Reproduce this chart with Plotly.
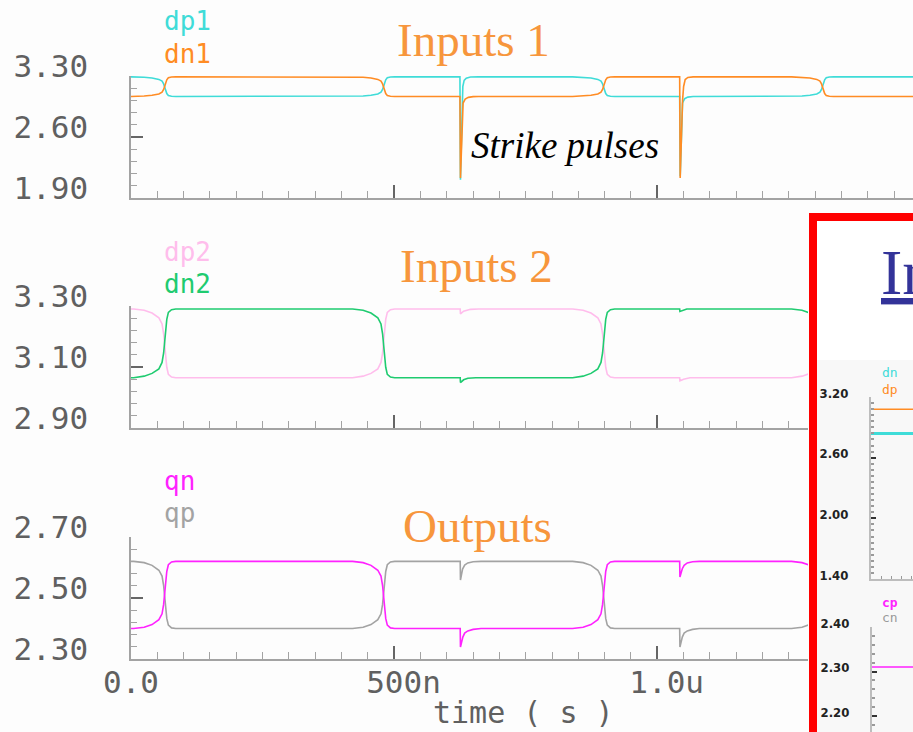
import plotly.graph_objects as go

# ---------------- waveform data (time in ns, voltage in V) ----------------
# time grids around the four logic transitions
EDGE_65 = [5, 25, 40, 53, 59, 62, 65, 68, 71, 77, 85]
EDGE_481 = [421, 441, 456, 469, 475, 478, 481, 484, 487, 493, 501]
EDGE_899 = [839, 859, 874, 887, 893, 896, 899, 902, 905, 911, 919]
EDGE_1315 = [1255, 1275, 1290, 1303, 1309, 1312, 1315, 1318, 1321, 1327, 1335]

# input node voltage through a falling / rising edge
IN_FALL = [3.290, 3.286, 3.277, 3.261, 3.241, 3.209, 3.155, 3.099, 3.076, 3.067, 3.065]
IN_RISE = [3.065, 3.070, 3.079, 3.094, 3.115, 3.146, 3.200, 3.256, 3.279, 3.288, 3.290]
# output node voltage through a falling / rising edge
OUT_FALL = [2.620, 2.616, 2.607, 2.591, 2.572, 2.541, 2.488, 2.433, 2.411, 2.402, 2.400]
OUT_RISE = [2.400, 2.404, 2.413, 2.429, 2.448, 2.479, 2.532, 2.587, 2.609, 2.618, 2.620]

# response to the two strike pulses (first near 626 ns, second near 1043 ns)
DP1_HIT1_T = [625, 626, 628.5, 630.5, 633, 637, 645, 660]
DP1_HIT1_V = [3.290, 2.110, 2.750, 3.180, 3.250, 3.275, 3.288, 3.290]
DP1_HIT2_T = [1042.5, 1043.5, 1046, 1048, 1052, 1058, 1068]
DP1_HIT2_V = [3.065, 2.150, 2.700, 2.990, 3.040, 3.058, 3.065]

DN1_HIT1_T = [625, 626, 629, 631, 635, 641, 650, 660]
DN1_HIT1_V = [3.065, 2.130, 2.750, 2.990, 3.035, 3.055, 3.063, 3.065]
DN1_HIT2_T = [1042.5, 1043.5, 1046, 1048, 1050, 1053, 1058, 1068]
DN1_HIT2_V = [3.290, 2.130, 2.750, 3.020, 3.180, 3.260, 3.283, 3.290]

DP2_HIT1_T = [625.5, 626, 632, 645, 660]
DP2_HIT1_V = [3.290, 3.274, 3.283, 3.289, 3.290]
DP2_HIT2_T = [1042.5, 1043, 1050, 1062]
DP2_HIT2_V = [3.065, 3.055, 3.060, 3.065]

DN2_HIT1_T = [625.5, 626, 632, 640, 655]
DN2_HIT1_V = [3.065, 3.049, 3.058, 3.063, 3.065]
DN2_HIT2_T = [1042.5, 1043, 1050, 1056]
DN2_HIT2_V = [3.290, 3.282, 3.287, 3.290]

QP_HIT1_T = [625.5, 626, 628, 630, 634, 640, 650, 665]
QP_HIT1_V = [2.620, 2.559, 2.575, 2.595, 2.608, 2.615, 2.619, 2.620]
QP_HIT2_T = [1042.5, 1043, 1045, 1047.5, 1051, 1057, 1067, 1080]
QP_HIT2_V = [2.400, 2.339, 2.355, 2.372, 2.385, 2.392, 2.397, 2.400]

QN_HIT1_T = [625.5, 626, 628, 630.5, 634, 640, 650, 665]
QN_HIT1_V = [2.400, 2.339, 2.355, 2.372, 2.385, 2.392, 2.397, 2.400]
QN_HIT2_T = [1042.5, 1043, 1045, 1047.5, 1051, 1057, 1067, 1080]
QN_HIT2_V = [2.620, 2.569, 2.582, 2.596, 2.607, 2.615, 2.619, 2.620]

T_START, T_END = 0, 1500

# small zoomed view (time in ns)
INSET_T = [0, 210]
INSET_DN = [2.84, 2.84]
INSET_DP = [3.08, 3.08]
INSET_CP = [2.31, 2.31]

# axis ticks
X_TICKS = [0, 500e-9, 1000e-9]
X_TICKTEXT = ["0.0", "\u00a0500n", "\u00a01.0u"]
Y1_TICKS = [1.90, 2.60, 3.30]
Y2_TICKS = [2.90, 3.10, 3.30]
Y3_TICKS = [2.30, 2.50, 2.70]
Y4_TICKS = [1.40, 2.00, 2.60, 3.20]
Y5_TICKS = [2.20, 2.30, 2.40]

# ---------------- assemble the series ----------------
dp1_t = [T_START] + EDGE_65 + EDGE_481 + DP1_HIT1_T + EDGE_899 + DP1_HIT2_T + EDGE_1315 + [T_END]
dp1_v = [3.290] + IN_FALL + IN_RISE + DP1_HIT1_V + IN_FALL + DP1_HIT2_V + IN_RISE + [3.290]
dn1_t = [T_START] + EDGE_65 + EDGE_481 + DN1_HIT1_T + EDGE_899 + DN1_HIT2_T + EDGE_1315 + [T_END]
dn1_v = [3.065] + IN_RISE + IN_FALL + DN1_HIT1_V + IN_RISE + DN1_HIT2_V + IN_FALL + [3.065]

dp2_t = [T_START] + EDGE_65 + EDGE_481 + DP2_HIT1_T + EDGE_899 + DP2_HIT2_T + EDGE_1315 + [T_END]
dp2_v = [3.290] + IN_FALL + IN_RISE + DP2_HIT1_V + IN_FALL + DP2_HIT2_V + IN_RISE + [3.290]
dn2_t = [T_START] + EDGE_65 + EDGE_481 + DN2_HIT1_T + EDGE_899 + DN2_HIT2_T + EDGE_1315 + [T_END]
dn2_v = [3.065] + IN_RISE + IN_FALL + DN2_HIT1_V + IN_RISE + DN2_HIT2_V + IN_FALL + [3.065]

qp_t = [T_START] + EDGE_65 + EDGE_481 + QP_HIT1_T + EDGE_899 + QP_HIT2_T + EDGE_1315 + [T_END]
qp_v = [2.620] + OUT_FALL + OUT_RISE + QP_HIT1_V + OUT_FALL + QP_HIT2_V + OUT_RISE + [2.620]
qn_t = [T_START] + EDGE_65 + EDGE_481 + QN_HIT1_T + EDGE_899 + QN_HIT2_T + EDGE_1315 + [T_END]
qn_v = [2.400] + OUT_RISE + OUT_FALL + QN_HIT1_V + OUT_RISE + QN_HIT2_V + OUT_FALL + [2.400]

# ---------------- styling ----------------
W, H = 913, 732
MONO = "DejaVu Sans Mono"
SERIF = "Liberation Serif, Times New Roman, serif"
NARROW = "Liberation Sans Narrow, DejaVu Sans Condensed, sans-serif"
AXIS = "#a3a3a3"
MAJOR = "#666666"
LABEL = "#606060"
TITLE = "#f7963c"

C_DP1 = "#3fdcd8"
C_DN1 = "#ff8c24"
C_DP2 = "#ffbdec"
C_DN2 = "#1fcb70"
C_QN = "#ff22ff"
C_QP = "#a3a3a3"


def px(x):
    return x / W


def py(y):
    return 1 - y / H


PX_PER_NS = 263.15 / 500.0
LEFT = 131


def ns_span(right_px):
    return (right_px - LEFT) / PX_PER_NS * 1e-9


def sec(ts):
    return [t * 1e-9 for t in ts]


fig = go.Figure()


def line(t, v, color, xa, ya, width=1.6, scale=True):
    fig.add_trace(go.Scatter(
        x=sec(t) if scale else t, y=v, mode="lines",
        line=dict(color=color, width=width),
        xaxis=xa, yaxis=ya, hoverinfo="skip", showlegend=False,
    ))


line(dp1_t, dp1_v, C_DP1, "x", "y")
line(dn1_t, dn1_v, C_DN1, "x", "y")
line(dp2_t, dp2_v, C_DP2, "x2", "y2")
line(dn2_t, dn2_v, C_DN2, "x2", "y2")
line(qp_t, qp_v, C_QP, "x3", "y3")
line(qn_t, qn_v, C_QN, "x3", "y3")

line(INSET_T, INSET_DP, C_DN1, "x4", "y4", width=1.5, scale=False)
line(INSET_T, INSET_DN, C_DP1, "x4", "y4", width=3, scale=False)
line(INSET_T, INSET_CP, C_QN, "x5", "y5", width=1.5, scale=False)


def xcfg(right_px, anchor, labels):
    return dict(
        domain=[px(LEFT), px(right_px)], anchor=anchor, automargin=False,
        range=[0, ns_span(right_px)],
        tickvals=X_TICKS, ticktext=X_TICKTEXT, showticklabels=labels,
        ticks="inside", ticklen=13, tickwidth=1.5, tickcolor=MAJOR,
        showline=True, linecolor=AXIS, linewidth=1.5,
        showgrid=False, zeroline=False,
        minor=dict(ticks="inside", ticklen=7, tickwidth=1.2, tickcolor=AXIS,
                   dtick=50e-9, tick0=0, showgrid=False),
        tickfont=dict(family=MONO, size=31, color=LABEL),
        ticklabelstandoff=-5,
    )


def ycfg(top_px, bottom_px, anchor, ticks, minor_dt):
    return dict(
        domain=[py(bottom_px), py(top_px)], anchor=anchor, automargin=False,
        range=[ticks[0], ticks[-1]],
        tickvals=ticks, tickformat=".2f",
        ticks="inside", ticklen=12, tickwidth=1.5, tickcolor=MAJOR,
        showline=True, linecolor=AXIS, linewidth=1.5,
        showgrid=False, zeroline=False,
        minor=dict(ticks="inside", ticklen=6, tickwidth=1.2, tickcolor=AXIS,
                   dtick=minor_dt, tick0=ticks[0], showgrid=False),
        tickfont=dict(family=MONO, size=31, color=LABEL),
        ticklabelshift=-10, ticklabelstandoff=35,
    )


def inset_y(top_px, bottom_px, anchor, rng, ticks, minor_dt):
    return dict(
        domain=[py(bottom_px), py(top_px)], anchor=anchor, automargin=False,
        range=rng, tickvals=ticks, tickformat=".2f",
        showline=True, linecolor="#bdbdbd", linewidth=2,
        ticks="inside", ticklen=5, tickwidth=1.5, tickcolor="#333333",
        minor=dict(ticks="inside", ticklen=3, tickcolor="#9a9a9a",
                   dtick=minor_dt, tick0=ticks[0], showgrid=False),
        showgrid=False, zeroline=False,
        tickfont=dict(family=NARROW, size=13, color="#222222", weight="bold"),
        ticklabelshift=-4, ticklabelstandoff=18,
    )


fig.update_layout(
    width=W, height=H,
    margin=dict(l=0, r=0, t=0, b=0, autoexpand=False),
    paper_bgcolor="#fdfdfd", plot_bgcolor="rgba(0,0,0,0)",
    xaxis=xcfg(913, "y", False),
    xaxis2=xcfg(808, "y2", False),
    xaxis3=xcfg(808, "y3", True),
    yaxis=ycfg(76, 198, "x", Y1_TICKS, 0.14),
    yaxis2=ycfg(306, 428, "x2", Y2_TICKS, 0.04),
    yaxis3=ycfg(537, 659, "x3", Y3_TICKS, 0.04),
    # zoomed view inside the framed box
    xaxis4=dict(domain=[px(871), 1], anchor="y4", range=[0, 210], automargin=False,
                showline=True, linecolor="#bdbdbd", linewidth=2,
                ticks="inside", ticklen=3, tickcolor="#9a9a9a", dtick=50,
                showticklabels=False, showgrid=False, zeroline=False),
    yaxis4=inset_y(397, 579, "x4", [1.40, 3.20], Y4_TICKS, 0.06),
    xaxis5=dict(domain=[px(872), 1], anchor="y5", range=[0, 210], visible=False,
                automargin=False),
    yaxis5=inset_y(627, 732, "x5", [2.40 - (732 - 627) / 445.0, 2.40], Y5_TICKS, 0.02),
)

# framed box holding the zoomed view
fig.add_shape(type="rect", xref="paper", yref="paper",
              x0=px(813), x1=1.05, y0=py(217), y1=-0.05,
              line=dict(color="#ff0000", width=8), fillcolor="#ffffff", layer="below")
fig.add_shape(type="rect", xref="paper", yref="paper",
              x0=px(817), x1=1.05, y0=py(360), y1=-0.05,
              line=dict(width=0), fillcolor="#f8f8f8", layer="below")


def note(text, x, y, size, color, family=MONO, xanchor="left", **font_kw):
    fig.add_annotation(text=text, x=px(x), y=py(y), xref="paper", yref="paper",
                       xanchor=xanchor, yanchor="middle", showarrow=False,
                       font=dict(family=family, size=size, color=color, **font_kw))


# panel titles
note("Inputs 1", 473, 40, 47, TITLE, SERIF, "center")
note("Inputs 2", 476, 266, 47, TITLE, SERIF, "center")
note("Outputs", 477, 526, 47, TITLE, SERIF, "center")
note("Strike pulses", 565, 145, 37, "#000000", SERIF, "center", style="italic")

# signal names
note("dp1", 162, 21, 26, C_DP1)
note("dn1", 162, 54, 26, C_DN1)
note("dp2", 162, 252, 26, C_DP2)
note("dn2", 162, 284, 26, C_DN2)
note("qn", 162, 481, 26, C_QN)
note("qp", 162, 513, 26, C_QP)

# time axis title
note("time ( s )", 523, 712, 30, LABEL, MONO, "center")

# zoomed view headings and names
note("<u>In</u>", 879, 272, 64, "#333399", SERIF)
note("dn", 880, 373, 13, C_DP1)
note("dp", 880, 389, 13, C_DN1)
note("cp", 880, 602, 13, C_QN, weight="bold")
note("cn", 880, 617, 13, "#9a9a9a")

fig.write_html("out.html")
